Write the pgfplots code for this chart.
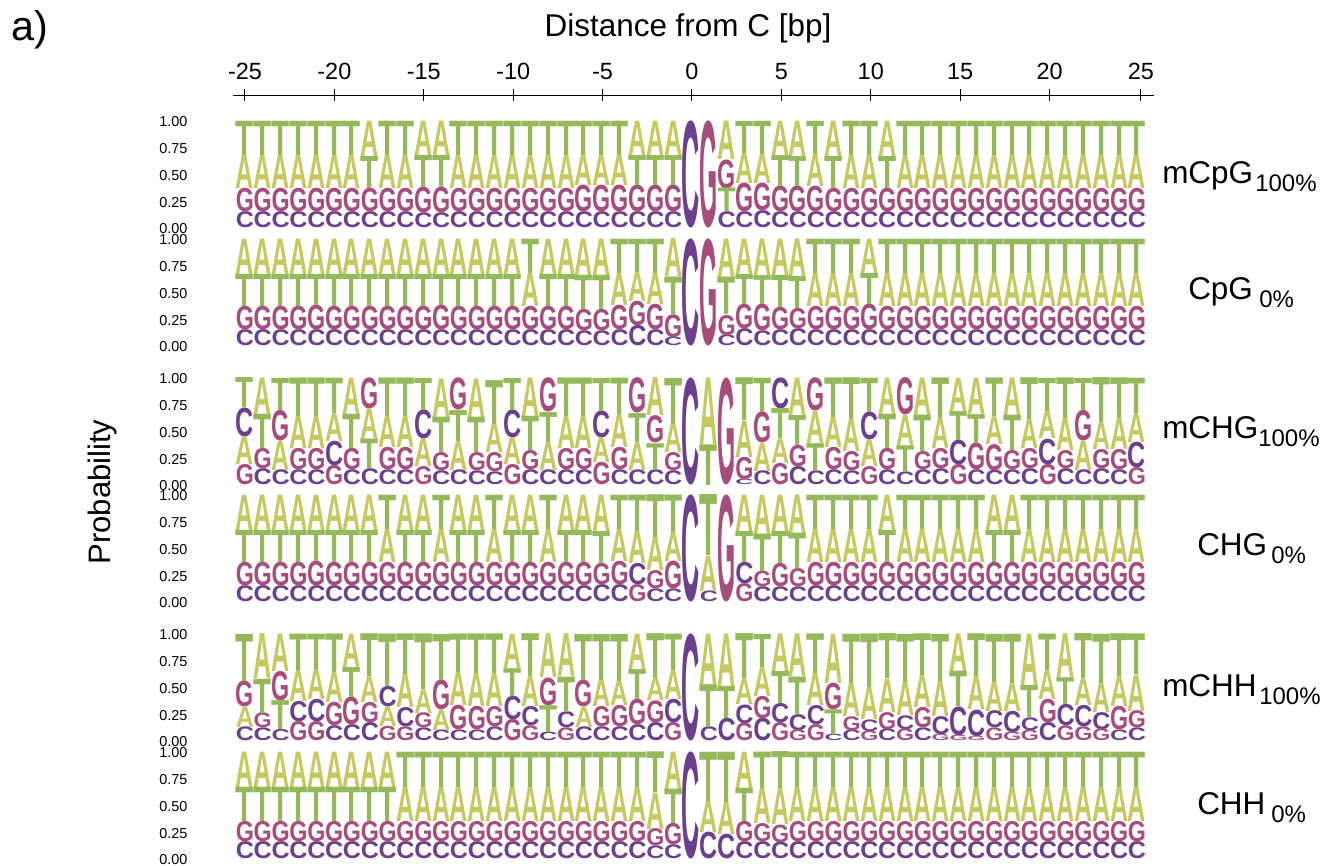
\documentclass[border=0pt]{standalone}
\usepackage{pgfplots}
\usepackage{pgfplotstable}
\usepackage{graphicx}
\usepackage{fontspec}
\setmainfont{Liberation Sans}
\pgfplotsset{compat=1.18}
\definecolor{cT}{HTML}{94B85A}
\definecolor{cA}{HTML}{C6C860}
\definecolor{cG}{HTML}{A64D7C}
\definecolor{cC}{HTML}{6C3F8D}

\pgfplotstableread{
C G A T
.15 .22 .31 .32
.15 .22 .31 .32
.15 .22 .31 .32
.15 .22 .31 .32
.15 .22 .31 .32
.15 .22 .31 .32
.15 .22 .31 .32
.15 .22 .33 .30
.15 .22 .31 .32
.15 .22 .31 .32
.14 .24 .32 .30
.14 .24 .32 .30
.15 .22 .31 .32
.15 .22 .31 .32
.15 .22 .31 .32
.15 .22 .31 .32
.15 .22 .31 .32
.15 .22 .31 .32
.15 .22 .31 .32
.15 .25 .28 .32
.15 .25 .28 .32
.15 .25 .28 .32
.15 .25 .32 .28
.15 .25 .32 .28
.15 .25 .32 .28
1 0 0 0
0 1 0 0
.15 .27 .36 .22
.15 .27 .28 .30
.16 .26 .27 .31
.15 .24 .32 .29
.15 .24 .33 .28
.15 .24 .30 .31
.15 .22 .33 .30
.15 .22 .31 .32
.15 .22 .31 .32
.15 .22 .33 .30
.15 .22 .31 .32
.15 .22 .31 .32
.15 .22 .31 .32
.15 .22 .31 .32
.15 .22 .31 .32
.15 .22 .31 .32
.15 .22 .31 .32
.15 .22 .31 .32
.15 .22 .31 .32
.15 .22 .31 .32
.15 .22 .31 .32
.15 .22 .31 .32
.15 .22 .31 .32
.15 .22 .31 .32
}\mytabA
\pgfplotstableread{
C G A T
.15 .22 .33 .30
.15 .22 .33 .30
.15 .22 .33 .30
.15 .22 .33 .30
.15 .23 .33 .29
.15 .22 .33 .30
.15 .22 .33 .30
.15 .22 .33 .30
.15 .22 .33 .30
.15 .22 .33 .30
.15 .22 .33 .30
.15 .23 .33 .29
.15 .22 .33 .30
.15 .22 .33 .30
.15 .22 .33 .30
.15 .22 .33 .30
.15 .22 .31 .32
.15 .22 .33 .30
.15 .22 .33 .30
.14 .20 .34 .32
.14 .20 .34 .32
.15 .23 .30 .32
.19 .23 .27 .31
.15 .24 .29 .32
.08 .215 .355 .35
1 0 0 0
0 1 0 0
.10 .19 .36 .35
.16 .23 .33 .28
.14 .25 .34 .27
.15 .21 .34 .30
.16 .19 .35 .30
.15 .22 .31 .32
.15 .22 .31 .32
.15 .22 .31 .32
.15 .24 .32 .29
.15 .22 .31 .32
.15 .22 .31 .32
.15 .22 .31 .32
.15 .22 .31 .32
.15 .22 .31 .32
.15 .22 .31 .32
.15 .22 .31 .32
.15 .22 .31 .32
.15 .22 .31 .32
.15 .22 .31 .32
.15 .22 .31 .32
.15 .22 .31 .32
.15 .22 .31 .32
.15 .22 .31 .32
.15 .22 .31 .32
}\mytabB
\pgfplotstableread{
C G A T
.27 .19 .26 .28
.15 .19 .34 .32
.14 .285 .275 .30
.14 .20 .30 .36
.14 .20 .30 .36
.23 .18 .26 .33
.14 .20 .34 .32
.15 .29 .285 .275
.14 .21 .29 .36
.14 .21 .29 .36
.27 .17 .26 .30
.13 .17 .36 .33
.14 .30 .27 .29
.13 .17 .36 .33
.12 .18 .27 .41
.26 .19 .25 .30
.14 .18 .36 .32
.14 .32 .26 .28
.14 .20 .30 .36
.14 .20 .30 .36
.25 .21 .23 .31
.14 .21 .31 .34
.14 .33 .26 .27
.14 .255 .355 .25
.13 .17 .27 .43
1 0 0 0
0 0 .62 .38
0 1 0 0
.05 .21 .34 .40
.13 .29 .26 .32
.29 .20 .23 .28
.17 .20 .35 .28
.13 .31 .30 .26
.14 .21 .28 .37
.13 .18 .30 .39
.26 .17 .25 .32
.14 .20 .34 .32
.12 .35 .28 .25
.14 .17 .35 .34
.15 .19 .28 .38
.23 .19 .31 .27
.14 .25 .34 .27
.135 .245 .26 .36
.14 .18 .35 .33
.15 .19 .27 .39
.24 .19 .26 .31
.15 .17 .30 .38
.14 .285 .275 .30
.15 .18 .25 .42
.14 .19 .29 .38
.24 .16 .27 .33
}\mytabC
\pgfplotstableread{
C G A T
.15 .22 .33 .30
.15 .22 .33 .30
.15 .22 .33 .30
.15 .22 .33 .30
.15 .23 .33 .29
.15 .22 .33 .30
.15 .22 .33 .30
.15 .22 .33 .30
.15 .22 .31 .32
.15 .22 .33 .30
.15 .22 .33 .30
.15 .22 .31 .32
.15 .22 .33 .30
.15 .22 .33 .30
.15 .22 .31 .32
.15 .22 .33 .30
.15 .22 .33 .30
.15 .22 .31 .32
.15 .22 .33 .30
.15 .22 .33 .30
.16 .20 .34 .30
.16 .22 .30 .32
.20 .16 .30 .34
.12 .17 .31 .40
.12 .26 .27 .35
1 0 0 0
.10 0 .33 .57
0 1 0 0
.20 .17 .34 .29
.14 .145 .365 .35
.14 .22 .34 .30
.14 .17 .36 .33
.15 .22 .31 .32
.15 .22 .31 .32
.15 .22 .31 .32
.15 .22 .31 .32
.15 .22 .33 .30
.15 .22 .31 .32
.15 .22 .31 .32
.15 .22 .31 .32
.15 .22 .31 .32
.15 .22 .31 .32
.15 .22 .33 .30
.15 .22 .33 .30
.15 .22 .31 .32
.15 .22 .31 .32
.15 .22 .31 .32
.15 .22 .31 .32
.15 .22 .31 .32
.15 .22 .31 .32
.15 .22 .31 .32
}\mytabD
\pgfplotstableread{
C G A T
.13 .24 .19 .44
.12 .14 .42 .32
.105 .275 .35 .27
.19 .18 .29 .34
.21 .18 .28 .33
.14 .22 .28 .36
.15 .26 .31 .28
.17 .19 .24 .40
.19 .135 .185 .49
.18 .13 .31 .38
.12 .14 .22 .52
.10 .28 .19 .43
.10 .23 .31 .36
.10 .22 .31 .37
.13 .19 .31 .37
.22 .20 .32 .26
.18 .14 .28 .40
.08 .26 .41 .25
.15 .12 .40 .33
.13 .25 .19 .43
.13 .19 .25 .43
.13 .20 .23 .44
.15 .24 .33 .28
.17 .205 .215 .41
.22 .17 .27 .34
1 0 0 0
.13 0 .47 .40
.21 0 .49 .30
.175 .165 .24 .42
.21 .21 .27 .31
.18 .17 .35 .30
.15 .10 .40 .35
.18 .15 .30 .37
.06 .25 .46 .23
.10 .13 .31 .46
.11 .09 .30 .50
.11 .16 .31 .42
.13 .11 .31 .45
.12 .19 .30 .39
.17 .06 .33 .44
.27 .05 .35 .33
.25 .04 .31 .40
.16 .12 .27 .45
.20 .08 .26 .46
.12 .10 .48 .30
.17 .22 .27 .34
.20 .14 .41 .25
.20 .13 .25 .42
.16 .11 .27 .46
.10 .22 .28 .40
.12 .16 .34 .38
}\mytabE
\pgfplotstableread{
C G A T
.16 .19 .33 .32
.16 .19 .33 .32
.16 .19 .33 .32
.16 .19 .33 .32
.16 .19 .33 .32
.16 .19 .33 .32
.16 .19 .33 .32
.16 .19 .33 .32
.16 .19 .33 .32
.16 .19 .32 .33
.16 .19 .32 .33
.16 .19 .32 .33
.16 .19 .32 .33
.16 .19 .32 .33
.16 .19 .32 .33
.16 .19 .32 .33
.16 .19 .32 .33
.16 .19 .32 .33
.16 .19 .32 .33
.16 .19 .32 .33
.16 .19 .32 .33
.16 .19 .32 .33
.16 .19 .32 .33
.12 .16 .34 .38
.13 .20 .35 .32
1 0 0 0
.25 0 .29 .46
.23 0 .30 .47
.16 .19 .34 .31
.16 .17 .33 .34
.155 .165 .335 .345
.16 .19 .32 .33
.16 .19 .32 .33
.16 .19 .32 .33
.16 .19 .32 .33
.16 .19 .32 .33
.16 .19 .32 .33
.16 .19 .32 .33
.16 .19 .32 .33
.16 .19 .32 .33
.16 .19 .32 .33
.16 .19 .32 .33
.16 .19 .32 .33
.16 .19 .32 .33
.16 .19 .32 .33
.16 .19 .32 .33
.16 .19 .32 .33
.16 .19 .32 .33
.16 .19 .32 .33
.16 .19 .32 .33
.16 .19 .32 .33
}\mytabF

\newcommand{\letterplot}[4]{%
  \addplot[draw=none, mark=none,
    visualization depends on={\thisrow{#1}*80.25 \as \hh},
    every node near coord/.style={anchor=south, inner sep=0pt, outer sep=0pt},
    nodes near coords={\ifdim\hh pt<0.4pt\else\resizebox*{13.6pt}{\hh pt}{\textcolor{#2}{\bfseries #1}}\fi},
  ] table[x expr=\coordindex-25, y expr={#3}] {#4};
}
\newcommand{\logopanel}[2]{%
\begin{axis}[
  at={(233*0.75pt,-#1*0.75pt)}, anchor=north west,
  scale only axis, width=690.75pt, height=80.25pt,
  xmin=-25.67, xmax=25.95, ymin=0, ymax=1,
  clip=false,
  axis line style={draw=none}, tick style={draw=none},
  xtick=\empty,
  ytick={0,0.25,0.5,0.75,1},
  yticklabels={0.00,0.25,0.50,0.75,1.00},
  yticklabel style={font=\fontsize{10.8}{12}\selectfont, anchor=east, inner sep=0pt, xshift=-34pt, yshift=-0.6pt, text=black},
]
\letterplot{C}{cC}{(\thisrow{G}<\thisrow{C})*\thisrow{G}+(\thisrow{A}<\thisrow{C})*\thisrow{A}+(\thisrow{T}<\thisrow{C})*\thisrow{T}}{#2}
\letterplot{G}{cG}{(\thisrow{C}<\thisrow{G}+.0001)*\thisrow{C}+(\thisrow{A}<\thisrow{G})*\thisrow{A}+(\thisrow{T}<\thisrow{G})*\thisrow{T}}{#2}
\letterplot{A}{cA}{(\thisrow{C}<\thisrow{A}+.0001)*\thisrow{C}+(\thisrow{G}<\thisrow{A}+.0001)*\thisrow{G}+(\thisrow{T}<\thisrow{A})*\thisrow{T}}{#2}
\letterplot{T}{cT}{(\thisrow{C}<\thisrow{T}+.0001)*\thisrow{C}+(\thisrow{G}<\thisrow{T}+.0001)*\thisrow{G}+(\thisrow{A}<\thisrow{T}+.0001)*\thisrow{A}}{#2}
\end{axis}}
\newcommand{\lab}[5]{%
  \node[anchor=base west, inner sep=0pt, font=\fontsize{23.6}{26}\selectfont] at (#1*0.75pt,-#2*0.75pt) {#3};
  \node[anchor=base west, inner sep=0pt, font=\fontsize{18}{20}\selectfont] at (#4*0.75pt,-#2*0.75pt-6pt) {#5};}

\begin{document}
\begin{tikzpicture}
\useasboundingbox (0,0) rectangle (1002pt,-648.75pt);
\begin{axis}[
  at={(233*0.75pt,-95*0.75pt)}, anchor=north west,
  scale only axis, width=690.75pt, height=1pt,
  xmin=-25.67, xmax=25.84, ymin=0, ymax=1,
  axis x line*=top, axis y line=none,
  ytick=\empty,
  tick align=center, major tick length=9pt, tick style={black, line width=0.75pt},
  axis line style={black, line width=0.75pt},
  xtick={-25,-20,-15,-10,-5,0,5,10,15,20,25.11},
  xticklabels={-25,-20,-15,-10,-5,0,5,10,15,20,25},
  xticklabel style={font=\fontsize{17.6}{20}\selectfont, inner sep=0pt, yshift=6.5pt},
]
\end{axis}
\logopanel{121}{\mytabA}
\logopanel{239}{\mytabB}
\logopanel{378}{\mytabC}
\logopanel{495}{\mytabD}
\logopanel{634}{\mytabE}
\logopanel{752}{\mytabF}
\node[anchor=base west, inner sep=0pt, font=\fontsize{31}{34}\selectfont] at (11*0.75pt,-40*0.75pt) {a)};
\node[anchor=base, inner sep=0pt, font=\fontsize{23.6}{26}\selectfont] at (688*0.75pt,-36*0.75pt) {Distance from C [bp]};
\node[anchor=base, rotate=90, inner sep=0pt, font=\fontsize{23.3}{26}\selectfont] at (110*0.75pt,-492*0.75pt) {Probability};
\lab{1162}{183}{mCpG}{1255}{100\%}
\lab{1188}{299}{CpG}{1259}{0\%}
\lab{1162}{438}{mCHG}{1258}{100\%}
\lab{1197}{555}{CHG}{1271}{0\%}
\lab{1162}{696}{mCHH}{1259}{100\%}
\lab{1197}{814}{CHH}{1271}{0\%}
\end{tikzpicture}
\end{document}
